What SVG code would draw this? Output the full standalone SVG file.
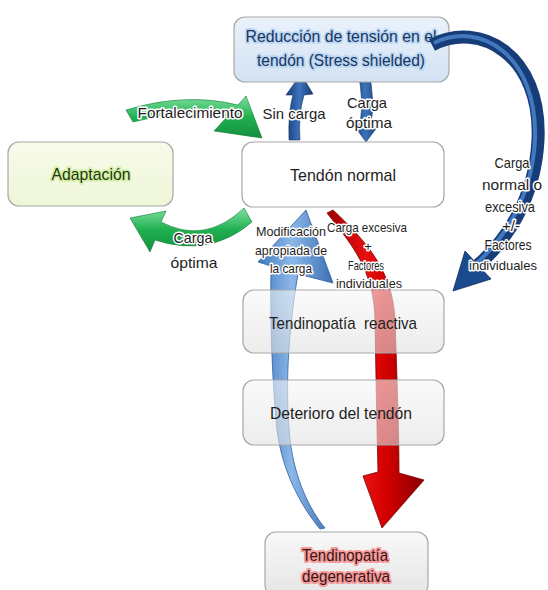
<svg xmlns="http://www.w3.org/2000/svg" width="548" height="590" viewBox="0 0 548 590">
<defs>
<linearGradient id="gGray" x1="0" y1="0" x2="0" y2="1"><stop offset="0" stop-color="#f7f7f7"/><stop offset="1" stop-color="#e0e0e0"/></linearGradient>
<linearGradient id="gBlueBox" x1="0" y1="0" x2="0" y2="1"><stop offset="0" stop-color="#eaf2fb"/><stop offset="1" stop-color="#d3e2f3"/></linearGradient>
<linearGradient id="gGreenBox" x1="0" y1="0" x2="0" y2="1"><stop offset="0" stop-color="#f8fbea"/><stop offset="1" stop-color="#eef6d8"/></linearGradient>
<linearGradient id="gRed" x1="0" y1="0" x2="1" y2="0"><stop offset="0" stop-color="#9c0000"/><stop offset="0.4" stop-color="#e81010"/><stop offset="0.6" stop-color="#d40000"/><stop offset="1" stop-color="#8a0000"/></linearGradient>
<linearGradient id="gLBlue" x1="0" y1="0" x2="1" y2="0"><stop offset="0" stop-color="#3f78bf"/><stop offset="0.45" stop-color="#8cb8e8"/><stop offset="1" stop-color="#3a6fb3"/></linearGradient>
<linearGradient id="gDBlue" x1="0" y1="0" x2="1" y2="0"><stop offset="0" stop-color="#173f7a"/><stop offset="0.5" stop-color="#3d73bd"/><stop offset="1" stop-color="#143a72"/></linearGradient>
<linearGradient id="gGreen" x1="0" y1="0" x2="0" y2="1"><stop offset="0" stop-color="#7fe0a0"/><stop offset="0.5" stop-color="#20b050"/><stop offset="1" stop-color="#149040"/></linearGradient>
<style>
text{font-family:"Liberation Sans",Arial,sans-serif;text-anchor:middle;fill:#1e1e1e}
.box{stroke:#a8a8a8;stroke-width:1.2}
.bx{font-size:17px}
.lbl{font-size:15px;paint-order:stroke;stroke:#ffffff;stroke-width:3;stroke-linejoin:round}
.sm{font-size:13px;paint-order:stroke;stroke:#ffffff;stroke-width:3;stroke-linejoin:round}
.navy{fill:#1c3560;paint-order:stroke;stroke:#b9d6f2;stroke-width:3.5;stroke-linejoin:round}
.grn{fill:#24380c;paint-order:stroke;stroke:#d4efa8;stroke-width:3.5;stroke-linejoin:round}
.red{fill:#3a1414;paint-order:stroke;stroke:#f49a9a;stroke-width:4;stroke-linejoin:round}
</style>
</defs>

<g id="connectors">
  <path id="arrow-red" d="M327,213 C352,245 374,270 375,320 C376,380 377,430 378,472 L363,476 L382,528 L424,480 L399,473 C399,430 397,380 395,320 C393,270 365,240 333,210 Z" fill="url(#gRed)" stroke="#7a0000" stroke-width="0.8"/>
  <path id="arrow-lblue" d="M306,210 L333,283 L298,274 C290,320 284,380 290,440 C295,480 310,510 325,528 L320,529 C300,505 282,470 277,430 C272,380 270,320 271,266 L258,262 Z" fill="url(#gLBlue)" stroke="#2f5f9f" stroke-width="0.8"/>
  <path id="arrow-green-top" d="M126,110 Q185,92 238,105 L246,96 L262,138 L214,131 L226,118 Q182,108 133,122 Z" fill="url(#gGreen)" stroke="#0f7a35" stroke-width="0.6"/>
  <path id="arrow-green-bottom" d="M161,222 Q205,245 244,208 L252,222 Q210,258 155,240 L150,252 L130,218 L166,211 Z" fill="url(#gGreen)" stroke="#0f7a35" stroke-width="0.6"/>
  <path id="arrow-sincarga" d="M289,140 Q288,112 293,95 L286,95 L301,74 L313,94 L304,95 Q298,115 300,140 Z" fill="url(#gDBlue)" stroke="#10305e" stroke-width="0.6"/>
  <path id="arrow-optima" d="M358,72 Q364,100 360,124 L353,124 L366,142 L378,126 L371,125 Q375,100 369,72 Z" fill="url(#gDBlue)" stroke="#10305e" stroke-width="0.6"/>
</g>

<g id="node-adaptacion">
  <rect class="box" x="8" y="142" width="165" height="64" rx="11" fill="url(#gGreenBox)"/>
  <text class="bx grn" x="91" y="180" textLength="79" lengthAdjust="spacingAndGlyphs">Adaptación</text>
</g>
<g id="node-normal">
  <rect class="box" x="242" y="142" width="202" height="65" rx="11" fill="#ffffff" fill-opacity="0.9"/>
  <text class="bx" x="343" y="181" textLength="106" lengthAdjust="spacingAndGlyphs">Tendón normal</text>
</g>
<g id="node-reactiva">
  <rect class="box" x="243" y="290" width="201" height="63" rx="11" fill="url(#gGray)" fill-opacity="0.6"/>
  <text class="bx" x="343" y="329" textLength="148" lengthAdjust="spacingAndGlyphs" xml:space="preserve">Tendinopatía  reactiva</text>
</g>
<g id="node-deterioro">
  <rect class="box" x="243" y="380" width="201" height="65" rx="11" fill="url(#gGray)" fill-opacity="0.6"/>
  <text class="bx" x="341" y="419" textLength="142" lengthAdjust="spacingAndGlyphs">Deterioro del tendón</text>
</g>
<g id="node-degenerativa">
  <rect class="box" x="265" y="532" width="163" height="64" rx="11" fill="url(#gGray)" fill-opacity="0.85"/>
  <text class="bx red" x="345" y="561" textLength="86" lengthAdjust="spacingAndGlyphs">Tendinopatía</text>
  <text class="bx red" x="346" y="582" textLength="88" lengthAdjust="spacingAndGlyphs">degenerativa</text>
</g>
<g id="node-stress">
  <rect class="box" x="234" y="17" width="215" height="65" rx="11" fill="url(#gBlueBox)" stroke="#9fb3c9"/>
  <text class="bx navy" x="341" y="42" textLength="191" lengthAdjust="spacingAndGlyphs">Reducción de tensión en el</text>
  <text class="bx navy" x="341" y="66" textLength="168" lengthAdjust="spacingAndGlyphs">tendón (Stress shielded)</text>
</g>

<g id="connector-big-blue">
  <path d="M432,45 C480,20 542,55 538,140 C535,200 505,242 478,265" fill="none" stroke="#163d78" stroke-width="13"/>
  <path d="M434,43 C480,20 538,55 535,140 C532,198 504,238 478,262" fill="none" stroke="#4f86cf" stroke-width="4" stroke-opacity="0.8"/>
  <path d="M491,279 L465,251 L453,291 Z" fill="#1c4a8e" stroke="#10305e" stroke-width="0.8"/>
</g>

<g id="labels">
  <text class="lbl" x="190" y="118" textLength="105" lengthAdjust="spacingAndGlyphs">Fortalecimiento</text>
  <text class="lbl" x="294" y="119" textLength="63" lengthAdjust="spacingAndGlyphs">Sin carga</text>
  <text class="lbl" x="367" y="108" textLength="40" lengthAdjust="spacingAndGlyphs">Carga</text>
  <text class="lbl" x="369" y="128" textLength="46" lengthAdjust="spacingAndGlyphs">óptima</text>
  <text class="lbl" x="193" y="243" textLength="39" lengthAdjust="spacingAndGlyphs">Carga</text>
  <text class="lbl" x="194" y="268" textLength="47" lengthAdjust="spacingAndGlyphs">óptima</text>
  <text class="sm" x="291" y="236" textLength="70" lengthAdjust="spacingAndGlyphs">Modificación</text>
  <text class="sm" x="291" y="255" textLength="72" lengthAdjust="spacingAndGlyphs">apropiada de</text>
  <text class="sm" x="291" y="273" textLength="42" lengthAdjust="spacingAndGlyphs">la carga</text>
  <text class="sm" x="367" y="232" textLength="80" lengthAdjust="spacingAndGlyphs">Carga excesiva</text>
  <text class="sm" x="368" y="251">+</text>
  <text class="sm" x="366" y="270" textLength="36" lengthAdjust="spacingAndGlyphs">Factores</text>
  <text class="sm" x="369" y="288" textLength="66" lengthAdjust="spacingAndGlyphs">individuales</text>
  <text class="lbl" x="512" y="168" textLength="35" lengthAdjust="spacingAndGlyphs">Carga</text>
  <text class="lbl" x="512" y="190" textLength="60" lengthAdjust="spacingAndGlyphs">normal o</text>
  <text class="lbl" x="510" y="212" textLength="50" lengthAdjust="spacingAndGlyphs">excesiva</text>
  <text class="lbl" x="511" y="231">+/-</text>
  <text class="lbl" x="508" y="250" textLength="47" lengthAdjust="spacingAndGlyphs">Factores</text>
  <text class="lbl" x="503" y="270" textLength="68" lengthAdjust="spacingAndGlyphs" style="font-size:13.5px">individuales</text>
</g>
</svg>
